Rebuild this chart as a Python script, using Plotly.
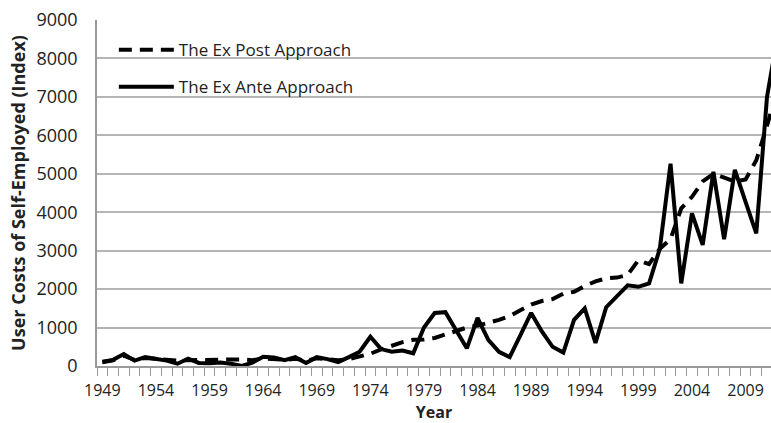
import plotly.graph_objects as go

years = list(range(1949, 2013))

ex_ante = [110, 160, 310, 140, 230, 180, 140, 60, 190, 80,
           70, 90, 60, 0, 90, 240, 220, 150, 230, 80,
           230, 180, 100, 230, 370, 760, 440, 370, 400, 330,
           1000, 1380, 1400, 930, 460, 1250, 680, 370, 230, 800,
           1380, 900, 500, 350, 1200, 1500, 600, 1530, 1800, 2100,
           2060, 2150, 3050, 5260, 2150, 3970, 3150, 5050, 3300, 5100,
           4270, 3450, 7000, 8600]

ex_post = [100, 150, 270, 160, 210, 180, 150, 140, 150, 160,
           170, 170, 170, 170, 150, 200, 190, 160, 190, 140,
           200, 180, 150, 180, 250, 320, 430, 530, 620, 680,
           690, 730, 820, 900, 1000, 1050, 1120, 1200, 1300, 1460,
           1600, 1690, 1740, 1880, 1930, 2080, 2200, 2280, 2300, 2370,
           2750, 2650, 3050, 3300, 4100, 4400, 4800, 5000, 4900, 4800,
           4850, 5350, 6250, 7200]

y_ticks = [0, 1000, 2000, 3000, 4000, 5000, 6000, 7000, 8000, 9000]
x_tick_years = list(range(1949, 2013, 5))

FONT = "Open Sans"

fig = go.Figure()
fig.add_trace(go.Scatter(x=years, y=ex_post, mode="lines", name="The Ex Post Approach",
                         legendgroup="a",
                         line=dict(color="black", width=4, dash="13px,8px")))
fig.add_trace(go.Scatter(x=years, y=ex_ante, mode="lines", name="The Ex Ante Approach",
                         legendgroup="b",
                         line=dict(color="black", width=4)))

fig.update_layout(
    width=771, height=423,
    margin=dict(l=97, r=0, t=20, b=57),
    paper_bgcolor="white", plot_bgcolor="white",
    font=dict(family=FONT, size=16, color="#222"),
    showlegend=True,
    legend=dict(x=0.025, y=0.965, xanchor="left", yanchor="top",
                bgcolor="rgba(0,0,0,0)", font=dict(size=17, color="#222"),
                tracegroupgap=12, itemwidth=55, traceorder="grouped"),
)
fig.update_xaxes(
    range=[1948.5, 1948.5 + (771 - 97) / 10.72],
    tickvals=x_tick_years, ticktext=[str(v) for v in x_tick_years],
    ticks="", showgrid=False, zeroline=False,
    showline=True, linecolor="#999", linewidth=1.5,
    minor=dict(ticks="outside", tick0=1948.5, dtick=1, ticklen=8, tickcolor="#999", tickwidth=1, showgrid=False),
    tickfont=dict(size=16, color="#222"), ticklabelstandoff=9,
    title=dict(text="<b>Year</b>", font=dict(size=16, color="#222"), standoff=4),
)
fig.update_yaxes(
    range=[0, 9000], tickvals=y_ticks,
    showgrid=True, gridcolor="#b5b5b5", gridwidth=1.5,
    showline=True, linecolor="#999", linewidth=1.5, zeroline=False,
    ticks="", tickfont=dict(size=18, color="#222"), ticklabelstandoff=14,
    title=dict(text="<b>User Costs of Self-Employed (Index)</b>", font=dict(size=18, color="#222"), standoff=6),
)

fig.write_html("out.html", config={"displayModeBar": False},
               post_script="document.body.style.margin='0';document.body.style.overflow='hidden';")
